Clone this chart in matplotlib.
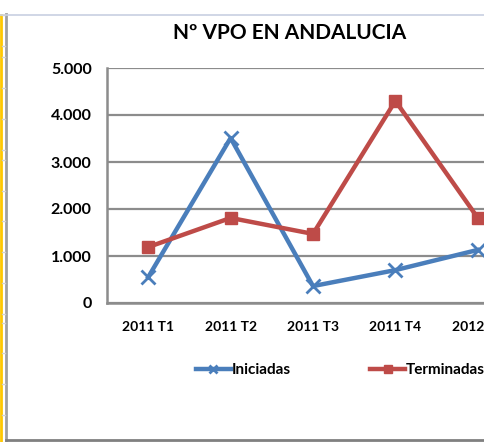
import matplotlib
matplotlib.use("Agg")
import matplotlib.pyplot as plt
from matplotlib.lines import Line2D

plt.rcParams['font.family'] = ['Lato', 'DejaVu Sans']

periods = ["2011 T1", "2011 T2", "2011 T3", "2011 T4", "2012 T1"]
iniciadas = [550, 3510, 360, 700, 1130]
terminadas = [1190, 1810, 1470, 4300, 1810]
y_ticks = [0, 1000, 2000, 3000, 4000, 5000]
y_labels = ["0", "1.000", "2.000", "3.000", "4.000", "5.000"]

W, H = 485, 442
fig = plt.figure(figsize=(W / 100, H / 100), dpi=100)

# plot area runs past the right edge, like the cropped original
ax = fig.add_axes([107 / W, (H - 303) / H, 412 / W, 235 / H])

x = list(range(len(periods)))
blue = "#4A7EBB"
red = "#BE4B48"

ax.plot(x, iniciadas, color=blue, lw=3.2, marker="x", ms=10, mew=2,
        label="Iniciadas", zorder=3)
ax.plot(x, terminadas, color=red, lw=3.2, marker="s", ms=9,
        label="Terminadas", zorder=3)

ax.set_xlim(-0.5, 4.5)
ax.set_ylim(0, 5000)
ax.set_yticks(y_ticks)
ax.set_yticklabels(y_labels)
ax.set_xticks(x)
ax.set_xticklabels(periods)

for lab in ax.get_xticklabels():
    lab.set_fontweight("bold")
    lab.set_fontsize(10)
for lab in ax.get_yticklabels():
    lab.set_fontweight("bold")
    lab.set_fontsize(11.5)

ax.tick_params(axis="y", length=0, pad=11)
ax.tick_params(axis="x", length=0, pad=13)
ax.grid(axis="y", color="#8C8C8C", lw=1.6)
ax.set_axisbelow(True)
for s in ["top", "right"]:
    ax.spines[s].set_visible(False)
for s in ["left", "bottom"]:
    ax.spines[s].set_color("#8C8C8C")
    ax.spines[s].set_linewidth(1.8)

fig.text(289.5 / W, 1 - 33 / H, "Nº VPO EN ANDALUCIA", ha="center",
         va="center", fontsize=15, fontweight="bold")

leg = fig.legend(loc="center left", bbox_to_anchor=(188 / W, 1 - 370 / H),
                 ncol=2, frameon=False, borderpad=0, handlelength=2.3,
                 handletextpad=0.05, columnspacing=5.2,
                 prop={"weight": "bold", "size": 11}, markerscale=0.6)

# outer frame pieces
fig.add_artist(Line2D([1 / W, 1 / W], [0, 1 - 15 / H], color="#FFC800",
                      lw=2, transform=fig.transFigure))
fig.add_artist(Line2D([6 / W, 6 / W], [0, 1 - 14 / H], color="#A0A0A0",
                      lw=2, transform=fig.transFigure))
fig.add_artist(Line2D([0, 1], [1 - 14.5 / H, 1 - 14.5 / H], color="#C8D0E2",
                      lw=1.2, transform=fig.transFigure))
fig.add_artist(Line2D([6 / W, 1], [1 - 440 / H, 1 - 440 / H], color="#808080",
                      lw=2, transform=fig.transFigure))
for ty in [15, 46, 57, 88, 119, 150, 160, 191, 221, 252, 283, 314, 323,
           353, 384, 415]:
    fig.add_artist(Line2D([2 / W, 5 / W], [1 - ty / H, 1 - ty / H],
                          color="#D0D0D0", lw=1, transform=fig.transFigure))

fig.savefig("out.png", dpi=100)
